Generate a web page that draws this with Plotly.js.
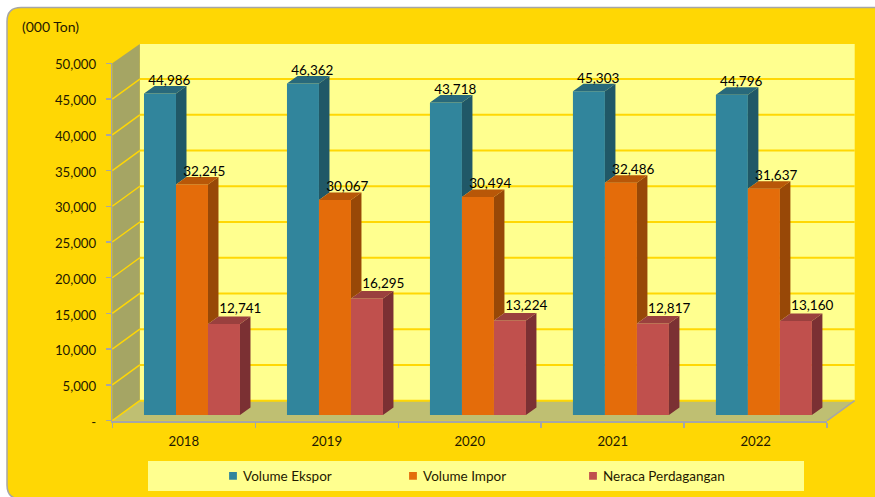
<!DOCTYPE html>
<html><head><meta charset="utf-8">
<script src="https://cdn.plot.ly/plotly-3.0.1.min.js"></script>
<style>
html,body{margin:0;padding:0;background:#fff;overflow:hidden}
#chart{width:875px;height:497px}
.legend .legendpoints path{transform:translate(30px,0) scale(.65)}
.ytick text{translate:0 1.5px}
</style></head><body><div id="chart"></div>
<script>
const years = ["2018","2019","2020","2021","2022"];
const ekspor = [44986,46362,43718,45303,44796];
const impor = [32245,30067,30494,32486,31637];
const neraca = [12741,16295,13224,12817,13160];
const yTicks = [0,5000,10000,15000,20000,25000,30000,35000,40000,45000,50000];
const yTickText = ["-","5,000","10,000","15,000","20,000","25,000","30,000","35,000","40,000","45,000","50,000"];
const seriesNames = ["Volume Ekspor","Volume Impor","Neraca Perdagangan"];
const frontColors = ["#31859C","#E46C0A","#C0504D"];
const sideColors = ["#205867","#984807","#7B3033"];
const topColors = ["#28697B","#B85708","#9A403E"];

const W=875,H=497;
const L=112.3,R=827.2,B=420.7,T=63.3;
const pxX=(R-L)/years.length, pxY=(B-T)/50000;
const wallDx=27.5, wallDy=20;
const xpP=px=>px/W, ypP=py=>1-py/H;
const valY=v=>B-v*pxY;
const font="Lato, Carlito, sans-serif", ink="#1f1a00";

/* bar geometry in data units */
const barBase=5.7/pxY, barW=32/pxX, sideX=10.5/pxX, sideY=7.5/pxY;
const barOff=[-39.8/pxX,-7.8/pxX,24.2/pxX];
const labelPx=[-14.5,20.5,56.5];
const labelLift=[12,12,14];

const traces=[];
const series=[ekspor,impor,neraca];
series.forEach((vals,s)=>{
  traces.push({type:"bar",name:seriesNames[s],x:years.map((_,i)=>i),y:vals,base:barBase,width:barW,offset:barOff[s],
    marker:{color:frontColors[s],line:{width:0}},hoverinfo:"name+y",cliponaxis:false});
});
series.forEach((vals,s)=>{
  const topX=[],topY=[],sideXs=[],sideYs=[];
  const next=series[s+1];
  vals.forEach((v,i)=>{
    const x0=i+barOff[s],x1=x0+barW,h=v+barBase;
    topX.push(x0,x1,x1+sideX,x0+sideX,x0,null);
    topY.push(h,h,h+sideY,h+sideY,h,null);
    const low=next?next[i]+barBase:barBase;
    sideXs.push(x1,x1+sideX,x1+sideX,x1,x1,null);
    sideYs.push(h,h+sideY,low+sideY,low,h,null);
  });
  traces.push({type:"scatter",mode:"lines",x:sideXs,y:sideYs,fill:"toself",fillcolor:sideColors[s],line:{width:0,color:sideColors[s]},showlegend:false,hoverinfo:"skip",cliponaxis:false});
  traces.push({type:"scatter",mode:"lines",x:topX,y:topY,fill:"toself",fillcolor:topColors[s],line:{width:0,color:topColors[s]},showlegend:false,hoverinfo:"skip",cliponaxis:false});
});
series.forEach((vals,s)=>{
  traces.push({type:"scatter",mode:"text",x:years.map((_,i)=>i+labelPx[s]/pxX),y:vals.map(v=>v+barBase+labelLift[s]/pxY),
    text:vals.map(v=>v.toLocaleString("en-US")),textposition:"middle center",
    textfont:{family:font,size:13.5,color:"#000"},showlegend:false,hoverinfo:"skip",cliponaxis:false});
});

const shapes=[];
const pathOf=pts=>"M"+pts.map(p=>xpP(p[0])+","+ypP(p[1])).join("L")+"Z";
const poly=(pts,fill,lw,lc)=>shapes.push({type:"path",xref:"paper",yref:"paper",layer:"below",path:pathOf(pts),fillcolor:fill,line:{width:lw||0,color:lc||fill}});
const seg=(x0,y0,x1,y1,c,w)=>shapes.push({type:"line",xref:"paper",yref:"paper",layer:"below",x0:xpP(x0),y0:ypP(y0),x1:xpP(x1),y1:ypP(y1),line:{color:c,width:w}});
/* rounded card */
const r=14,cx=7,cy=7.5,cb=499,cr=882;
shapes.push({type:"path",xref:"paper",yref:"paper",layer:"below",
  path:`M${xpP(cx)},${ypP(cy+r)}Q${xpP(cx)},${ypP(cy)} ${xpP(cx+r)},${ypP(cy)}L${xpP(cr)},${ypP(cy)}L${xpP(cr)},${ypP(cb)}L${xpP(cx+r)},${ypP(cb)}Q${xpP(cx)},${ypP(cb)} ${xpP(cx)},${ypP(cb-r)}Z`,
  fillcolor:"#FFD704",line:{color:"#A6A6A6",width:1.5}});
/* walls */
const backTop=44;
poly([[L+wallDx,backTop],[R+wallDx,backTop],[R+wallDx,B-wallDy],[L+wallDx,B-wallDy]],"#FFFF8F");
poly([[L,T],[L+wallDx,backTop],[L+wallDx,B-wallDy],[L,B]],"#A5A564");
poly([[L,B],[R,B],[R+wallDx,B-wallDy],[L+wallDx,B-wallDy]],"#BFBF72");
yTicks.forEach(v=>{
  const y=valY(v);
  if(v<50000) seg(L+wallDx,y-wallDy,R+wallDx,y-wallDy,"#FFD704",2);
  if(v<50000) seg(L,y,L+wallDx,y-wallDy,"#FFD704",1.5);
});
seg(R,B,R+wallDx,B-wallDy,"#A6A6A6",1.5);
/* legend panel */
poly([[148,461],[804,461],[804,491],[148,491]],"#FFFF8F");

const layout={
  width:W,height:H,margin:{l:0,r:0,t:0,b:0},paper_bgcolor:"#fff",plot_bgcolor:"rgba(0,0,0,0)",
  barmode:"overlay",shapes,
  xaxis:{domain:[xpP(L),xpP(R)],range:[-0.5,4.5],tickvals:years.map((_,i)=>i),ticktext:years,ticks:"",
    showgrid:false,zeroline:false,showline:true,linecolor:"#A6A6A6",linewidth:2,ticklabelstandoff:7,
    tickfont:{family:font,size:13.2,color:ink},
    minor:{tickvals:[-0.5,0.5,1.5,2.5,3.5,4.5],ticks:"outside",ticklen:5,tickwidth:1.5,tickcolor:"#A6A6A6",showgrid:false}},
  yaxis:{domain:[ypP(B),ypP(T)],range:[0,50000],tickvals:yTicks,ticktext:yTickText,ticks:"outside",ticklen:5,tickwidth:1.5,tickcolor:"#A6A6A6",
    showgrid:false,zeroline:false,showline:true,linecolor:"#A6A6A6",linewidth:1.5,ticklabelstandoff:7,
    tickfont:{family:font,size:13.2,color:ink}},
  legend:{orientation:"h",x:xpP(203),xanchor:"left",y:ypP(476),yanchor:"middle",bgcolor:"rgba(0,0,0,0)",
    font:{family:font,size:13.5,color:ink},entrywidth:135,entrywidthmode:"pixels",traceorder:"normal"},
  annotations:[{xref:"paper",yref:"paper",x:xpP(20),y:ypP(26),xanchor:"left",yanchor:"middle",showarrow:false,text:"(000 Ton)",font:{family:font,size:14,color:ink}}],
  showlegend:true
};
Plotly.newPlot("chart",traces,layout,{displayModeBar:false,staticPlot:true});
</script></body></html>
